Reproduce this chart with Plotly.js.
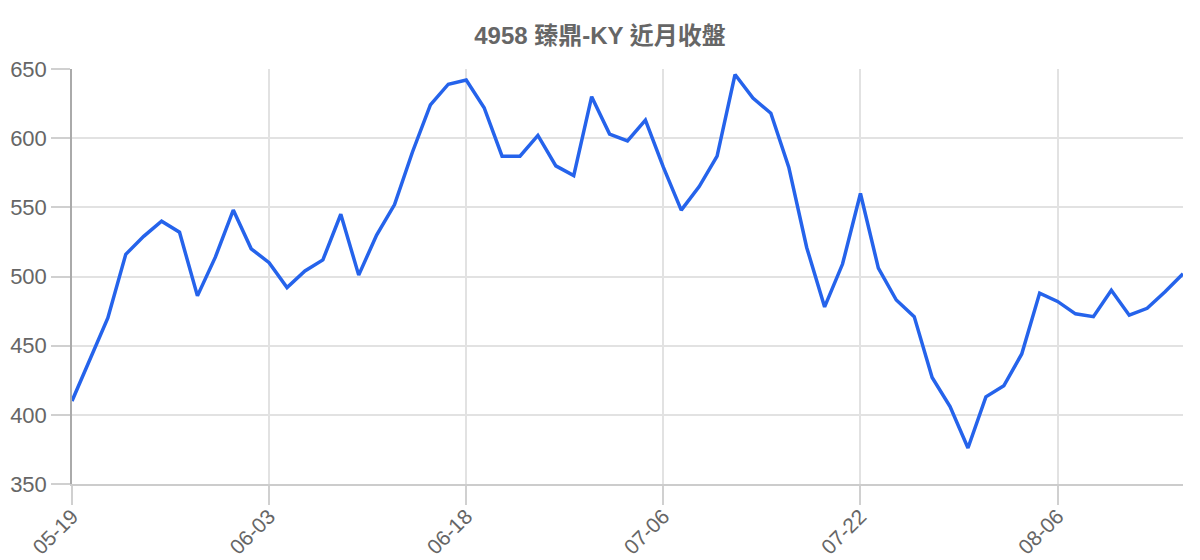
<!DOCTYPE html>
<html>
<head>
<meta charset="utf-8">
<script src="https://cdn.plot.ly/plotly-3.0.1.min.js"></script>
<style>html,body{margin:0;padding:0;background:#fff;}#chart{width:1200px;height:560px;}</style>
</head>
<body>
<div id="chart"></div>
<script>
const chartTitle = "4958 臻鼎-KY 近月收盤";
const dates = [
  "05-19","05-20","05-21","05-22","05-23","05-26","05-27","05-28","05-29","05-30",
  "06-02","06-03","06-04","06-05","06-06","06-09","06-10","06-11","06-12","06-13",
  "06-16","06-17","06-18","06-19","06-20","06-23","06-24","06-25","06-26","06-27",
  "06-30","07-01","07-03","07-06","07-07","07-08","07-09","07-10","07-11","07-14",
  "07-15","07-16","07-17","07-18","07-22","07-23","07-24","07-25","07-28","07-29",
  "07-30","07-31","08-01","08-04","08-05","08-06","08-07","08-08","08-11","08-12",
  "08-13","08-14","08-15"
];
const closes = [
  410, 440, 470, 516, 529, 540, 532, 486, 514, 548,
  520, 510, 492, 504, 512, 545, 501, 530, 552, 590,
  624, 639, 642, 622, 587, 587, 602, 580, 573, 630,
  603, 598, 613, 579, 548, 565, 587, 646, 629, 618,
  579, 521, 478, 509, 560, 506, 483, 471, 427, 406,
  376, 413, 421, 444, 488, 482, 473, 471, 490, 472,
  477, 489, 502
];
const yTicks = [350, 400, 450, 500, 550, 600, 650];
const tickEvery = 11;
const shownDates = dates.filter((d, i) => i % tickEvery === 0);

const trace = {
  x: dates,
  y: closes,
  type: "scatter",
  mode: "lines",
  line: {color: "#2563eb", width: 3.5},
  hoverinfo: "x+y"
};

const layout = {
  width: 1200,
  height: 560,
  margin: {l: 72, r: 17, t: 69, b: 76},
  paper_bgcolor: "#fff",
  plot_bgcolor: "#fff",
  showlegend: false,
  title: {
    text: "<b>" + chartTitle + "</b>",
    x: 0.5, xanchor: "center",
    y: 0.937, yanchor: "middle",
    font: {family: "Liberation Sans, Arial, Noto Sans CJK TC, sans-serif", size: 24, color: "#666"}
  },
  xaxis: {
    type: "category",
    range: [0, dates.length - 1],
    tickmode: "array",
    tickvals: shownDates,
    ticktext: shownDates,
    tickangle: -45,
    ticks: "outside",
    ticklen: 19,
    tickwidth: 2,
    tickcolor: "#d0d0d0",
    ticklabelstandoff: -9,
    showgrid: true,
    gridcolor: "#e2e2e2",
    gridwidth: 1.5,
    showline: true,
    linecolor: "#cccccc",
    linewidth: 1.5,
    zeroline: false,
    tickfont: {family: "Liberation Sans, Arial, sans-serif", size: 21, color: "#666"}
  },
  yaxis: {
    range: [350, 650],
    tickmode: "array",
    tickvals: yTicks,
    ticktext: yTicks.map(String),
    ticks: "outside",
    ticklen: 19,
    tickwidth: 2,
    tickcolor: "#d0d0d0",
    showgrid: true,
    gridcolor: "#e2e2e2",
    gridwidth: 1.5,
    showline: true,
    linecolor: "#aaaaaa",
    linewidth: 1.5,
    zeroline: false,
    tickfont: {family: "Liberation Sans, Arial, sans-serif", size: 22, color: "#666"}
  }
};

Plotly.newPlot("chart", [trace], layout, {displayModeBar: false}).then(function () {
  document.querySelectorAll("path.ticks").forEach(function (p) {
    p.style.stroke = "#d0d0d0";
    p.style.strokeWidth = "2px";
    p.style.strokeOpacity = "1";
  });
});
</script>
</body>
</html>
